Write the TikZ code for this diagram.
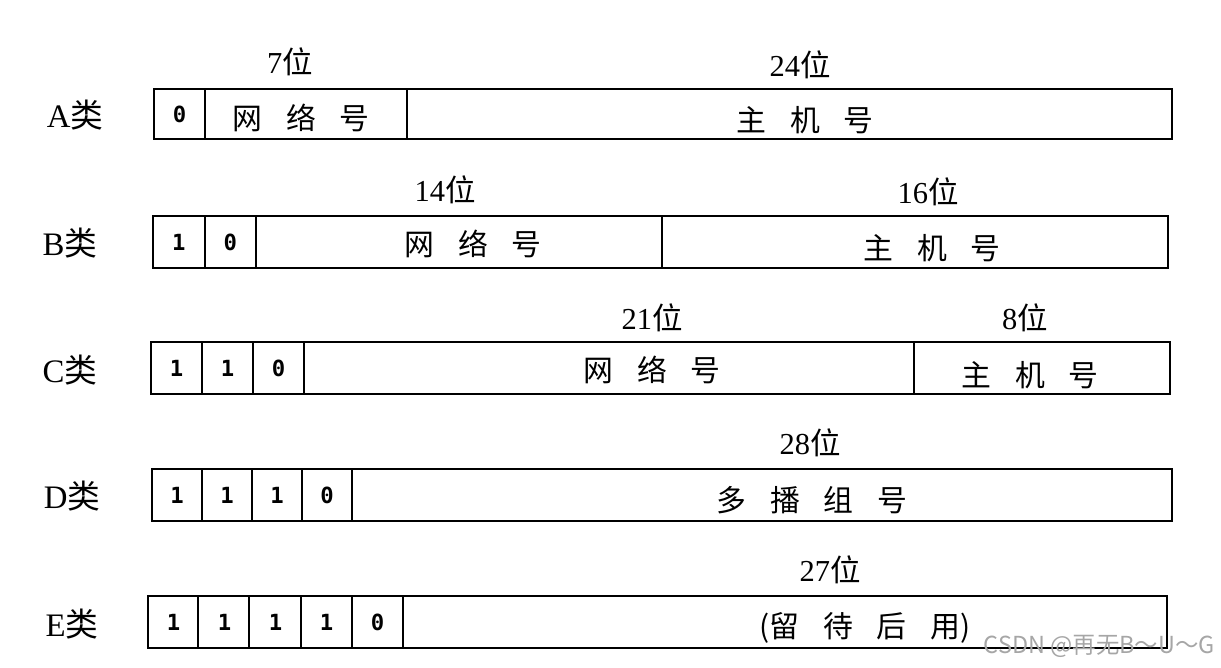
\documentclass[tikz,border=0pt]{standalone}
\usepackage{fontspec}
\setmainfont{Liberation Serif}
\newfontfamily\cjk{Noto Sans CJK SC}
\newfontfamily\bitfont{DejaVu Sans Mono}
\newcommand{\gap}{\hspace{0.8em}}
\newcommand{\wei}{{\cjk 位}}
\tikzset{
  box/.style={line width=1.8pt},
  bitval/.style={font=\bitfont\bfseries\fontsize{19}{19}\selectfont},
  cls/.style={font=\fontsize{28}{28}\selectfont},
  nbits/.style={font=\fontsize{26}{26}\selectfont},
  field/.style={font=\cjk\fontsize{25.5}{25.5}\selectfont},
}

\begin{document}
\begin{tikzpicture}[x=0.03cm, y=-0.03cm]
        \useasboundingbox (0,0) rectangle (1221,668);

        % A
        \node[cls] (la) at (75,115) {A{\cjk 类}};
        \draw[box] (154,89) rectangle (1172,139);
        \draw[box] (205,89) -- (205,139) (407,89) -- (407,139);
        \node[bitval] (a1) at (179.5,114) {0};
        \node[nbits] (wa1) at (290,62) {7\wei};
        \node[nbits] (wa2) at (800,65) {24\wei};
        \node[field] (anet) at (301,118) {网\gap 络\gap 号};
        \node[field] (ahost) at (805,120) {主\gap 机\gap 号};

        % B
        \node[cls] (lb) at (70,243) {B{\cjk 类}};
        \draw[box] (153,216) rectangle (1168,268);
        \foreach \x in {205,256,662} \draw[box] (\x,216) -- (\x,268);
        \foreach \b [count=\i] in {1,0}
          \node[bitval] (b\i) at ({153+51.5*(\i-0.5)},242) {\b};
        \node[nbits] (wb1) at (445,190) {14\wei};
        \node[nbits] (wb2) at (928,192) {16\wei};
        \node[field] (bnet) at (473,244) {网\gap 络\gap 号};
        \node[field] (bhost) at (932,248) {主\gap 机\gap 号};

        % C
        \node[cls] (lc) at (70,370) {C{\cjk 类}};
        \draw[box] (151,342) rectangle (1170,394);
        \foreach \x in {202,253,304,914} \draw[box] (\x,342) -- (\x,394);
        \foreach \b [count=\i] in {1,1,0}
          \node[bitval] (c\i) at ({151+51*(\i-0.5)},368) {\b};
        \node[nbits] (wc1) at (652,318) {21\wei};
        \node[nbits] (wc2) at (1025,318) {8\wei};
        \node[field] (cnet) at (652,370) {网\gap 络\gap 号};
        \node[field] (chost) at (1030,375) {主\gap 机\gap 号};

        % D
        \node[cls] (ld) at (72,496) {D{\cjk 类}};
        \draw[box] (152,469) rectangle (1172,521);
        \foreach \x in {202,252,302,352} \draw[box] (\x,469) -- (\x,521);
        \foreach \b [count=\i] in {1,1,1,0}
          \node[bitval] (d\i) at ({152+50*(\i-0.5)},495) {\b};
        \node[nbits] (wd1) at (810,443) {28\wei};
        \node[field] (dgrp) at (812,500) {多\gap 播\gap 组\gap 号};

        % E
        \node[cls] (le) at (72,624) {E{\cjk 类}};
        \draw[box] (148,596) rectangle (1167,648);
        \foreach \x in {198,249,301,352,403} \draw[box] (\x,596) -- (\x,648);
        \foreach \b [count=\i] in {1,1,1,1,0}
          \node[bitval] (e\i) at ({148+51*(\i-0.5)},622) {\b};
        \node[nbits] (we1) at (830,570) {27\wei};
        \node[field] (eres) at (865,628) {(留\gap 待\gap 后\gap 用)};

        % watermark
        \node[anchor=east, text=black!35, font=\cjk\fontsize{20}{20}\selectfont] (mark) at (1219,646) {CSDN @再无B～U～G};
\end{tikzpicture}
\end{document}
